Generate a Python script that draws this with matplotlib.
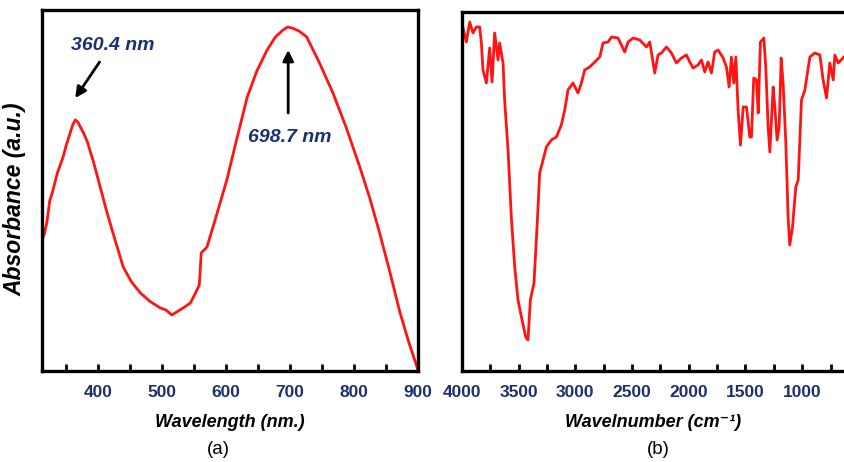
import matplotlib
matplotlib.use("Agg")
import matplotlib.pyplot as plt
from matplotlib.ticker import MultipleLocator

plt.rcParams['font.family'] = ['Liberation Sans', 'DejaVu Sans']

# (a) UV-Vis spectrum
uv_wavelength = [312, 316, 320, 324, 328, 336, 345, 350, 355, 360, 364, 368, 372, 377,
                 383, 393, 403, 413, 423, 431, 439, 452, 466, 480, 497, 506, 515, 525,
                 535, 544, 552, 558, 561, 570, 585, 601, 617, 633, 648, 664, 677, 689,
                 696, 703, 714, 726, 746, 767, 788, 809, 825, 840, 856, 872, 886, 900]
uv_absorb = [131, 138, 150, 170, 178, 198, 214, 226, 236, 246, 251, 249, 244, 238,
             229, 208, 184, 160, 138, 121, 104, 89, 78, 70, 63, 61, 56, 60,
             64, 68, 78, 86, 118, 124, 156, 191, 233, 274, 300, 321, 334, 341,
             344, 343, 340, 334, 308, 278, 243, 204, 172, 138, 99, 58, 28, 1]

# (b) FTIR spectrum
ir_wavenumber = [3991, 3962, 3932, 3903, 3874, 3844, 3829, 3815, 3785, 3756, 3735, 3712,
                 3682, 3668, 3638, 3624, 3594, 3565, 3535, 3506, 3476, 3438, 3418, 3397,
                 3365, 3335, 3315, 3285, 3256, 3212, 3168, 3124, 3094, 3065, 3021, 2977,
                 2947, 2918, 2874, 2829, 2785, 2756, 2712, 2682, 2624, 2565, 2535, 2491,
                 2432, 2373, 2344, 2300, 2271, 2241, 2197, 2153, 2109, 2065, 2021, 1991,
                 1962, 1918, 1888, 1859, 1830, 1800, 1771, 1741, 1697, 1668, 1644, 1624,
                 1603, 1585, 1565, 1544, 1520, 1491, 1462, 1447, 1427, 1403, 1388, 1368,
                 1338, 1321, 1300, 1285, 1256, 1241, 1221, 1203, 1185, 1168, 1144, 1124,
                 1109, 1085, 1056, 1035, 1006, 976, 932, 888, 844, 815, 785, 756,
                 726, 712, 682, 632]
ir_trans = [343, 329, 349, 338, 344, 344, 328, 301, 288, 323, 289, 338,
            311, 328, 308, 271, 221, 154, 104, 71, 54, 34, 31, 71,
            88, 151, 198, 211, 224, 231, 234, 246, 261, 281, 288, 278,
            288, 301, 304, 309, 314, 328, 329, 334, 333, 319, 329, 333,
            331, 324, 329, 298, 316, 318, 324, 318, 308, 313, 316, 309,
            303, 306, 311, 299, 309, 298, 319, 321, 313, 304, 284, 314,
            288, 314, 261, 226, 264, 264, 234, 234, 293, 291, 258, 329,
            333, 304, 244, 219, 284, 264, 231, 244, 313, 288, 228, 154,
            126, 144, 184, 191, 271, 281, 314, 318, 316, 291, 273, 308,
            291, 316, 308, 314]

W, H = 844, 462
fig = plt.figure(figsize=(W / 100, H / 100), dpi=100)
red = '#ff1414'
navy = '#1c2f6e'


def px_axes(x0, y0, x1, y1):
    return fig.add_axes([x0 / W, 1 - y1 / H, (x1 - x0) / W, (y1 - y0) / H])


def style(ax):
    for s in ax.spines.values():
        s.set_linewidth(2.4)
    ax.set_yticks([])
    ax.tick_params(axis='x', which='both', direction='in', length=5, width=2,
                   top=False, labelsize=12.5, labelcolor=navy, pad=10)
    for lab in ax.get_xticklabels():
        lab.set_fontweight('bold')


arrow = dict(arrowstyle='-|>', color='black', lw=2, mutation_scale=16,
             shrinkA=0, shrinkB=0)
label_font = dict(fontsize=13, fontweight='bold', style='italic')

# panel (a)
ax1 = px_axes(42, 10, 418, 371)
ax1.plot(uv_wavelength, uv_absorb, color=red, lw=2)
ax1.set_xlim(312, 900)
ax1.set_ylim(0, 361)
ax1.xaxis.set_major_locator(MultipleLocator(100))
ax1.xaxis.set_minor_locator(MultipleLocator(50))
style(ax1)
ax1.set_xlabel('Wavelength (nm.)', labelpad=10, **label_font)
ax1.set_ylabel('Absorbance (a.u.)', fontsize=16.5, fontweight='bold', style='italic')
ax1.yaxis.set_label_coords(-0.04, 0.476)
ax1.annotate('', xy=(364, 273), xytext=(402, 309), arrowprops=arrow)
ax1.text(422, 326, '360.4 nm', fontsize=14, color=navy, fontweight='bold',
         style='italic', ha='center', va='center')
ax1.annotate('', xy=(697, 321), xytext=(697, 258), arrowprops=arrow)
ax1.text(700, 234, '698.7 nm', fontsize=14, color=navy, fontweight='bold',
         style='italic', ha='center', va='center')
fig.text(218 / W, 1 - 450 / H, '(a)', ha='center', va='center', fontsize=13.5)

# panel (b)
ax2 = px_axes(462, 12, 844, 371)
ax2.plot(ir_wavenumber, ir_trans, color=red, lw=2)
ax2.set_xlim(4000, 631)
ax2.set_ylim(0, 359)
ax2.xaxis.set_major_locator(MultipleLocator(500))
ax2.xaxis.set_minor_locator(MultipleLocator(250))
style(ax2)
ax2.spines['right'].set_visible(False)
ax2.set_xlabel('Wavelnumber (cm\u207b\u00b9)', labelpad=10, **label_font)
fig.text(658 / W, 1 - 450 / H, '(b)', ha='center', va='center', fontsize=13.5)

fig.savefig('out.png', dpi=100)
